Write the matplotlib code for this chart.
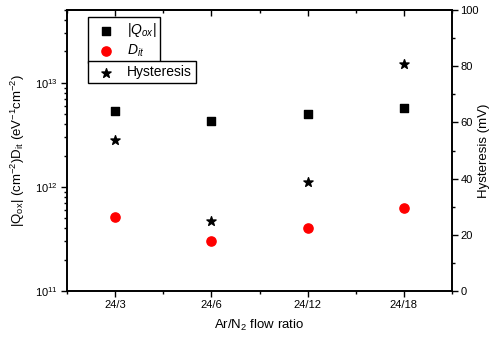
import numpy as np
import matplotlib.pyplot as plt
from matplotlib.ticker import LogLocator, MultipleLocator, NullFormatter

plt.rcParams['font.family'] = ['Liberation Sans', 'DejaVu Sans']
plt.rcParams['mathtext.fontset'] = 'custom'
plt.rcParams['mathtext.rm'] = 'Liberation Sans'
plt.rcParams['mathtext.it'] = 'Liberation Sans:italic'
plt.rcParams['mathtext.default'] = 'regular'

# data
ratios = ['24/3', '24/6', '24/12', '24/18']
q_ox = [5.4e12, 4.3e12, 5.0e12, 5.7e12]        # cm^-2
d_it = [5.1e11, 3.0e11, 4.0e11, 6.3e11]        # eV^-1 cm^-2
hysteresis = [53.7, 24.8, 38.7, 80.9]          # mV

x = np.arange(1, len(ratios) + 1)

fig = plt.figure(figsize=(4.92, 3.4), dpi=100)
ax = fig.add_axes([67 / 492, 49 / 340, 385 / 492, 281 / 340])
ax2 = ax.twinx()

sq = ax.scatter(x, q_ox, marker='s', s=32, color='black', zorder=3, label=r'$|\mathit{Q}_{\mathit{ox}}|$')
ci = ax.scatter(x, d_it, marker='o', s=44, color='red', zorder=3, label=r'$\mathit{D}_{\mathit{it}}$')
st = ax2.scatter(x, hysteresis, marker='*', s=48, color='black', zorder=3, label='Hysteresis')

ax.set_yscale('log')
ax.set_ylim(1e11, 5e13)
ax.set_xlim(0.5, 4.5)
ax.set_xticks(x)
ax.set_xticklabels(ratios)
ax.xaxis.set_minor_locator(MultipleLocator(0.5))
ax.yaxis.set_major_locator(LogLocator(base=10, numticks=10))
ax.yaxis.set_minor_locator(LogLocator(base=10, subs=np.arange(2, 10), numticks=10))
ax.yaxis.set_minor_formatter(NullFormatter())

ax2.set_ylim(0, 100)
ax2.yaxis.set_major_locator(MultipleLocator(20))
ax2.yaxis.set_minor_locator(MultipleLocator(10))

for a in (ax, ax2):
    for s in a.spines.values():
        s.set_linewidth(1.2)
ax.tick_params(which='both', direction='out', labelsize=8, width=1.0, top=False, pad=2.5)
ax.tick_params(which='major', length=4)
ax.tick_params(which='minor', length=2.5)
ax2.tick_params(which='both', direction='out', labelsize=8, width=1.0, pad=2)
ax2.tick_params(which='major', length=4)
ax2.tick_params(which='minor', length=2.5)

# top ticks pointing inward
top = ax.secondary_xaxis('top')
top.set_xticks(x)
top.set_xticklabels([])
top.xaxis.set_minor_locator(MultipleLocator(0.5))
top.tick_params(which='both', direction='in', width=1.0)
top.tick_params(which='major', length=4)
top.tick_params(which='minor', length=2.5)
top.spines['top'].set_linewidth(1.2)

ax.set_xlabel(r'Ar/N$_2$ flow ratio', fontsize=9.5, labelpad=6)
ax.set_ylabel(r'|Q$_{\mathrm{ox}}$| (cm$^{-2}$)D$_{\mathrm{it}}$ (eV$^{-1}$cm$^{-2}$)', fontsize=9.5, labelpad=6)
ax2.set_ylabel('Hysteresis (mV)', fontsize=9.5)
ax2.yaxis.set_label_coords(1.068, 0.5)

leg1 = ax2.legend(handles=[sq, ci], loc='upper left', bbox_to_anchor=(88 / 492, 1 - 17 / 340),
                  bbox_transform=fig.transFigure, fancybox=False, edgecolor='black',
                  framealpha=1, fontsize=10, borderpad=0.3, handletextpad=0.5,
                  labelspacing=0.25, borderaxespad=0)
leg1.get_frame().set_linewidth(1.0)
ax2.add_artist(leg1)
leg2 = ax2.legend(handles=[st], loc='upper left', bbox_to_anchor=(88 / 492, 1 - 61 / 340),
                  bbox_transform=fig.transFigure, fancybox=False, edgecolor='black',
                  framealpha=1, fontsize=10, borderpad=0.3, handletextpad=0.5,
                  borderaxespad=0)
leg2.get_frame().set_linewidth(1.0)

fig.savefig('out.png', dpi=100)
